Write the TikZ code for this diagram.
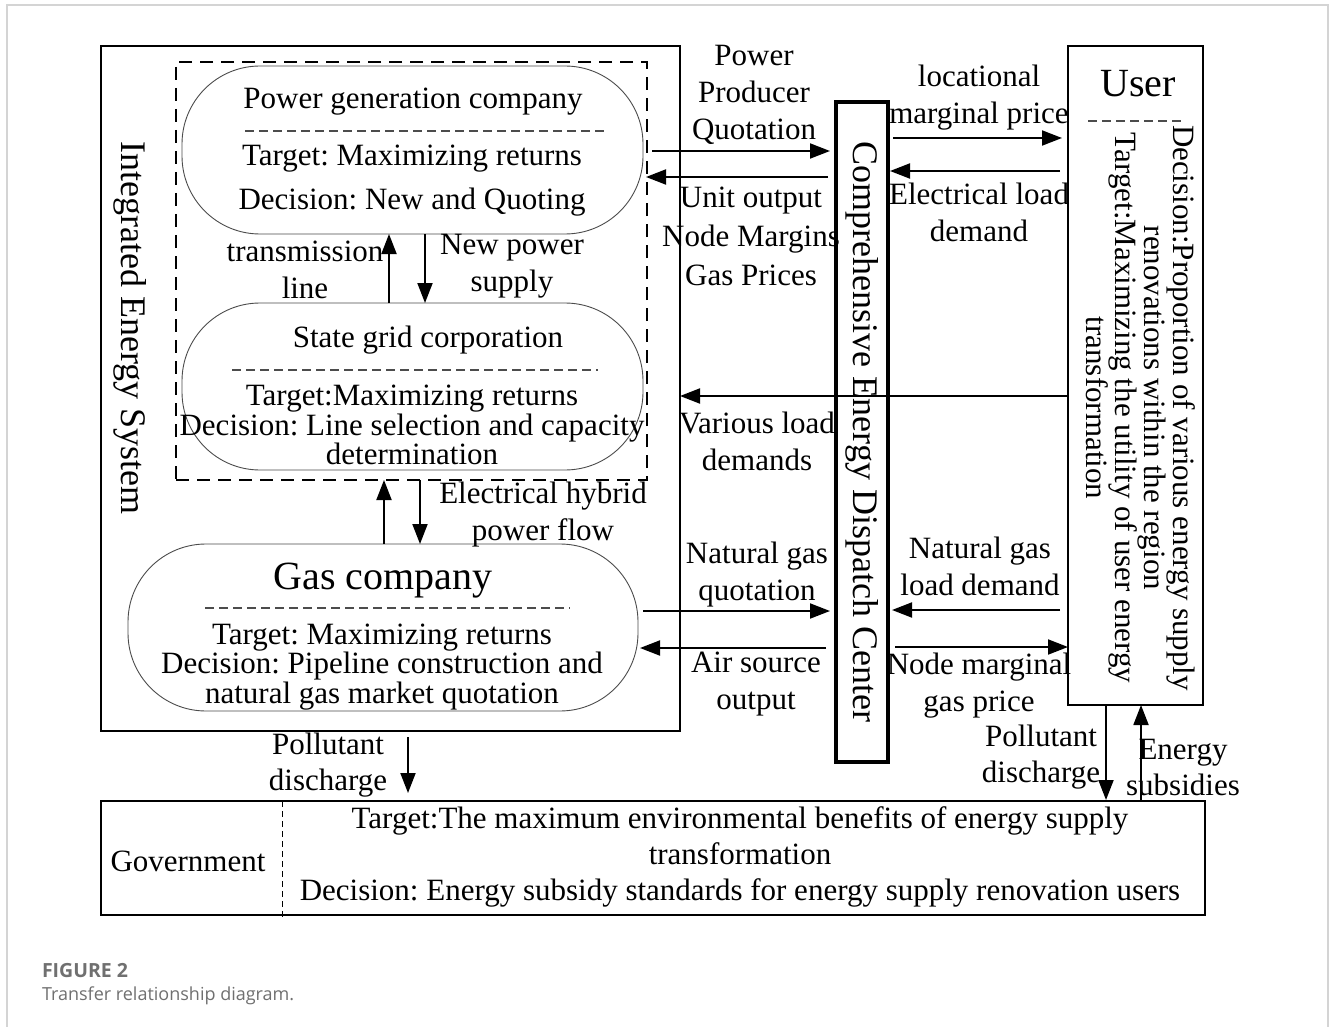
\documentclass[tikz,border=0pt]{standalone}
\usepackage{fontspec}
\setmainfont{Liberation Serif}
\newfontfamily\capfont{Open Sans}
\usetikzlibrary{arrows.meta}
\definecolor{capgray}{HTML}{707070}
\definecolor{framegray}{HTML}{D4D4D4}
\frenchspacing
\begin{document}
\begin{tikzpicture}[x=1pt,y=-1pt,
  every node/.style={inner sep=0pt, outer sep=0pt},
  lbl/.style={font=\fontsize{31}{37}\selectfont, align=center},
  arr/.style={line width=1.9pt, -{Triangle[length=20pt,width=15pt]}},
  rbox/.style={draw=black!70, line width=0.9pt, rounded corners=78pt},
  sbox/.style={draw=black, line width=2.5pt},
  sepline/.style={draw=black!70, line width=1.3pt, dash pattern=on 9pt off 5pt},
]
\fill[white] (0,0) rectangle (1330,1027);
\path[use as bounding box] (0,0) rectangle (1330,1027);
\draw[framegray, line width=1.5pt] (7,1027) -- (7,5) -- (1328,5) -- (1328,1027);

% main boxes
\node[sbox, minimum width=579pt, minimum height=685pt] (ies) at (390.5,388.5) {};
\node[draw=black, line width=2pt, dash pattern=on 13pt off 8pt, minimum width=471pt, minimum height=418pt] (dbox) at (411.5,271) {};
\node[rbox, minimum width=461pt, minimum height=168pt] (pg) at (412.5,150) {};
\node[rbox, minimum width=461pt, minimum height=167pt] (sg) at (412.5,386.5) {};
\node[rbox, minimum width=510pt, minimum height=167pt] (gas) at (383,627.5) {};
\node[draw=black, line width=3.5pt, minimum width=52pt, minimum height=660pt] (cedc) at (862,432) {};
\node[sbox, minimum width=135pt, minimum height=659pt] (user) at (1135.5,375.5) {};
\node[sbox, minimum width=1104pt, minimum height=114pt] (gov) at (653,858) {};

% power generation company
\node[lbl] (pgt) at (413,102) {Power generation company};
\draw[sepline] (245,131) -- (605,131);
\node[lbl] (pgx) at (412,181) {Target: Maximizing returns\\[7pt]Decision: New and Quoting};

% state grid
\node[lbl] (sgt) at (428,340) {State grid corporation};
\draw[sepline] (232,370) -- (598,370);
\node[lbl, font=\fontsize{31}{27}\selectfont] (sgx) at (412,425) {Target:Maximizing returns\\Decision: Line selection and capacity\\determination};

% gas company
\node[lbl, font=\fontsize{40}{44}\selectfont] (gast) at (383,581) {Gas company};
\draw[sepline] (205,608) -- (570,608);
\node[lbl, font=\fontsize{31}{27}\selectfont] (gasx) at (382,667) {Target: Maximizing returns\\Decision: Pipeline construction and\\natural gas market quotation};

% IES label
\node[rotate=-90, font=\fontsize{36}{40}\selectfont] (iest) at (130,328) {Integrated Energy System};

% CEDC label
\node[rotate=-90, font=\fontsize{36}{40}\selectfont] (cedct) at (cedc) {Comprehensive Energy Dispatch Center};

% user
\node[font=\fontsize{40}{44}\selectfont] (usert) at (1138,84) {User};
\draw[sepline] (1088,121) -- (1183,121);
\node[rotate=-90, align=center, font=\fontsize{31}{29}\selectfont] (userx) at (1141,408) {Decision:Proportion of various energy supply\\renovations within the region\\Target:Maximizing the utility of user energy\\transformation};

% arrows between PG and SG
\draw[arr] (sg.north -| 389,0) -- (pg.south -| 389,0);
\draw[arr] (pg.south -| 425,0) -- (sg.north -| 425,0);
\node[lbl] (tl) at (305,270) {transmission\\line};
\node[lbl] (np) at (512,266) {New power\\supply};

% arrows between dashed box and gas
\draw[arr] (gas.north -| 384,0) -- (dbox.south -| 384,0);
\draw[arr] (dbox.south -| 420,0) -- (gas.north -| 420,0);
\node[lbl] (eh) at (543,515) {Electrical hybrid\\power flow};

% IES <-> CEDC
\draw[arr, shorten <=9pt, shorten >=6pt] (pg.east |- 0,151) -- (cedc.west |- 0,151);
\draw[arr, shorten <=8pt, shorten >=3pt] (cedc.west |- 0,177) -- (pg.east |- 0,177);
\node[lbl] (ppq) at (754,95) {Power\\Producer\\Quotation};
\node[lbl, font=\fontsize{31}{39}\selectfont] (uo) at (751,236) {Unit output\\Node Margins\\Gas Prices};

% CEDC <-> User (electric)
\draw[arr, shorten <=5pt, shorten >=6pt] (cedc.east |- 0,138) -- (user.west |- 0,138);
\draw[arr, shorten <=8pt, shorten >=2pt] (user.west |- 0,171) -- (cedc.east |- 0,171);
\node[lbl] (lmp) at (979,98) {locational\\marginal price};
\node[lbl] (eld) at (979,212) {Electrical load\\demand};

% various load demands
\draw[arr] (user.west |- 0,396) -- (ies.east |- 0,396);
\node[lbl] (vld) at (757,441) {Various load\\demands};

% gas <-> CEDC
\draw[arr, shorten <=5pt, shorten >=6pt] (gas.east |- 0,611) -- (cedc.west |- 0,611);
\draw[arr, shorten <=10pt, shorten >=2pt] (cedc.west |- 0,648) -- (gas.east |- 0,648);
\node[lbl] (ngq) at (757,575) {Natural gas\\quotation};
\node[lbl] (aso) at (756,684) {Air source\\output};

% CEDC <-> user (gas)
\draw[arr, shorten <=8pt, shorten >=4pt] (user.west |- 0,610) -- (cedc.east |- 0,610);
\draw[arr, shorten <=7pt] (cedc.east |- 0,647) -- (user.west |- 0,647);
\node[lbl] (ngl) at (980,566) {Natural gas\\load demand};
\node[lbl] (nmg) at (979,686) {Node marginal\\gas price};

% bottom arrows
\draw[arr, shorten <=6pt, shorten >=8pt] (ies.south -| 408,0) -- (gov.north -| 408,0);
\node[lbl, font=\fontsize{31}{36}\selectfont] (pd1) at (328,765) {Pollutant\\discharge};
\draw[arr, shorten >=1pt] (user.south -| 1106,0) -- (gov.north -| 1106,0);
\draw[arr] (gov.north -| 1141,0) -- (user.south -| 1141,0);
\node[lbl, font=\fontsize{31}{36}\selectfont] (pd2) at (1041,757) {Pollutant\\discharge};
\node[lbl, font=\fontsize{31}{36}\selectfont] (es) at (1183,767) {Energy\\subsidies};

% government
\draw[line width=1pt, dash pattern=on 6pt off 4pt] (gov.north -| 282,0) -- (282,920);
\node[lbl] (govt) at (188,861) {Government};
\node[lbl, font=\fontsize{31}{36}\selectfont] (govx) at (740,857) {Target:The maximum environmental benefits of energy supply\\transformation\\Decision: Energy subsidy standards for energy supply renovation users};

% caption
\node[anchor=base west, text=capgray, font=\capfont\bfseries\fontsize{19.5}{22}\selectfont] (cap1) at (42,977) {FIGURE 2};
\node[anchor=base west, text=capgray, font=\capfont\fontsize{18}{20}\selectfont] (cap2) at (42,1000) {Transfer relationship diagram.};
\end{tikzpicture}
\end{document}
